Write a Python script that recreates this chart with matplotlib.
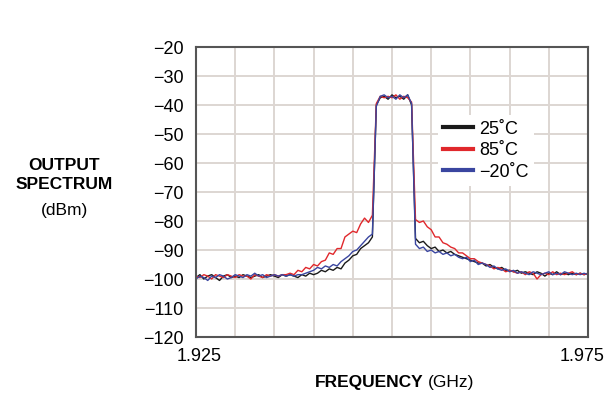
import numpy as np
import matplotlib
matplotlib.use("Agg")
import matplotlib.pyplot as plt
import matplotlib.transforms as mtransforms
from matplotlib.ticker import MultipleLocator, FixedLocator, FormatStrFormatter

plt.rcParams['font.family'] = ['Liberation Sans', 'DejaVu Sans']

# frequency axis (GHz), 0.5 MHz steps
freq = np.linspace(1.925, 1.975, 101)

# spectrum traces (dBm)
black_25 = [-99.5, -98.5, -100, -99, -98.5, -99.5, -100.5, -99, -98.5, -99.5,
            -99, -99.5, -98.5, -99, -99.5, -99, -98.5, -99.5, -99, -98.5,
            -99, -99.5, -98.5, -99, -98.5,
            -99, -99.5, -98.5, -99, -98, -98.5, -98, -97, -97.5, -96.5,
            -97, -96, -96.5, -94.5, -93.5, -92, -91.5, -89.5, -88.5, -87.5, -85.5,
            -40, -37.5, -37, -38, -36.5, -37.5, -37, -38, -36.5, -40,
            -86, -87.5, -87, -88.5, -89.5, -89, -90.5, -90, -91, -90.5,
            -91.5, -92, -92.5, -93, -93.5, -94, -94.5, -94.5, -95.5, -95,
            -96, -96.5, -96, -97, -97, -97.5, -97, -98, -97.5, -98,
            -98.5, -97.5, -98, -99, -98, -98.5, -97.5, -98.5, -98, -98.5,
            -98, -98.5, -98, -98.5, -98]
red_85 = [-99, -99.5, -98.5, -99, -100, -98.5, -99, -99.5, -98.5, -99,
          -99.5, -98.5, -99, -99, -100, -98.5, -99, -99.5, -98.5, -99,
          -98.5, -99, -98.5, -98.5, -98,
          -98.5, -97, -97.5, -96, -96.5, -95, -95.5, -94, -93.5, -91,
          -91.5, -89.5, -89.5, -85.5, -84.5, -83.5, -84, -81, -79, -80.5, -78,
          -39.5, -37, -37.5, -37, -37.5, -36.5, -38, -37, -37.5, -39,
          -79.5, -80.5, -80, -82, -83, -85.5, -85.5, -87.5, -88, -89,
          -89.5, -91, -91, -92, -93, -93, -94, -94.5, -95, -95.5,
          -96.5, -96, -96.5, -97.5, -97, -97.5, -98, -97.5, -98.5, -97.5,
          -98, -100, -98.5, -98, -98.5, -97.5, -98.5, -98, -98.5, -98,
          -97.5, -98.5, -98, -98.5, -98]
blue_m20 = [-100, -99, -99.5, -100.5, -99, -99.5, -98.5, -99, -100, -99.5,
            -98.5, -99, -99.5, -98.5, -99, -98, -99, -98.5, -99.5, -99,
            -98.5, -99, -98.5, -99, -98.5,
            -99, -98.5, -98.5, -98, -97.5, -97, -96, -96.5, -95.5, -96,
            -95, -95.5, -94, -93, -92, -90.5, -90, -88.5, -87, -85.5, -84.5,
            -40.5, -37, -36.5, -37.5, -37, -38, -36.5, -37.5, -36.5, -39.5,
            -88, -89.5, -89, -90.5, -90, -91, -90.5, -91.5, -91, -92,
            -91.5, -92.5, -93, -92.5, -94, -93.5, -95, -94.5, -95, -96,
            -95.5, -96.5, -97, -96.5, -97.5, -97, -98, -97.5, -98, -98.5,
            -97.5, -98, -98.5, -98, -97.5, -98.5, -98, -98.5, -97.5, -98,
            -98.5, -98, -98.5, -98, -98.5]

labels = ['25˚C', '85˚C', '−20˚C']
colors = ['#1a1a1a', '#e0282c', '#3a46a0']

fig = plt.figure(figsize=(6.06, 3.97), dpi=100)
ax = fig.add_axes([0.3234, 0.1511, 0.6469, 0.7305])

for y, lab, c in zip([black_25, red_85, blue_m20], labels, colors):
    ax.plot(freq, y, color=c, lw=1.0, label=lab)

ax.set_xlim(1.925, 1.975)
ax.set_ylim(-120, -20)
ax.xaxis.set_major_locator(FixedLocator([1.925, 1.975]))
ax.xaxis.set_minor_locator(MultipleLocator(0.005))
ax.xaxis.set_major_formatter(FormatStrFormatter('%.3f'))
ax.yaxis.set_major_locator(MultipleLocator(10))
ax.grid(True, which='both', color='#ddd6d2', lw=1.4)
ax.set_axisbelow(True)
ax.tick_params(which='both', length=0, labelsize=13)
ax.tick_params(axis='y', pad=9)
ax.tick_params(axis='x', pad=8)
for s in ax.spines.values():
    s.set_color('#555555')
    s.set_linewidth(1.5)

# nudge the end labels like the original
xlabs = ax.get_xticklabels()
xlabs[0].set_transform(xlabs[0].get_transform() +
                       mtransforms.ScaledTranslation(3 / 100, 0, fig.dpi_scale_trans))
xlabs[-1].set_transform(xlabs[-1].get_transform() +
                        mtransforms.ScaledTranslation(-6 / 100, 0, fig.dpi_scale_trans))

leg = ax.legend(loc='upper left', bbox_to_anchor=(0.617, 0.765), fontsize=13,
                frameon=True, fancybox=False, handlelength=1.65, handletextpad=0.35,
                labelspacing=0.25, borderpad=0.3, borderaxespad=0)
leg.get_frame().set_facecolor('white')
leg.get_frame().set_edgecolor('none')
leg.get_frame().set_alpha(1)
for h in leg.get_lines():
    h.set_linewidth(3)

fig.text(64 / 606, 1 - 175 / 397, 'OUTPUT\nSPECTRUM', ha='center', va='center',
         fontsize=12.5, fontweight='bold', linespacing=1.35)
fig.text(64 / 606, 1 - 210 / 397, '(dBm)', ha='center', va='center', fontsize=12.5)
fig.text(424 / 606, 1 - 383 / 397, 'FREQUENCY', ha='right', va='center',
         fontsize=12.5, fontweight='bold')
fig.text(428 / 606, 1 - 383 / 397, '(GHz)', ha='left', va='center', fontsize=12.5)

fig.savefig('out.png', dpi=100)
